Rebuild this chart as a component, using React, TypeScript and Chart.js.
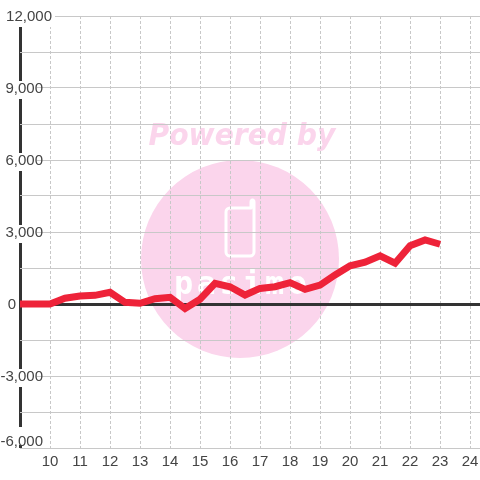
import React, { useEffect, useRef } from "react";
import { Chart, registerables } from "chart.js";

Chart.register(...registerables);

const hours = [9, 10, 10.5, 11, 11.5, 12, 12.5, 13, 13.5, 14, 14.5, 15, 15.5, 16, 16.5, 17, 17.5, 18, 18.5, 19, 19.5, 20, 20.5, 21, 21.5, 22, 22.5, 23];
const values = [0, 0, 240, 330, 360, 490, 70, 30, 220, 280, -190, 200, 860, 720, 375, 650, 720, 890, 610, 790, 1210, 1590, 1740, 2010, 1700, 2430, 2670, 2490];
const watermarkTop = "Powered by";
const watermarkBrand = "pasimo";

const TEXT = "#444444";
const GRID = "#c8c8c8";
const AXIS = "#333333";
const LINE = "#ee2339";
const PINK = "#fbd5ec";

const watermark = {
  id: "watermark",
  beforeDraw(chart: any) {
    const c = chart.ctx;
    c.save();
    c.fillStyle = PINK;
    c.beginPath();
    c.arc(240, 259, 99, 0, Math.PI * 2);
    c.fill();
    c.save();
    c.translate(242, 145);
    c.scale(0.91, 1);
    c.font = "italic bold 31px 'DejaVu Sans'";
    c.textAlign = "center";
    c.textBaseline = "alphabetic";
    c.fillText(watermarkTop, 0, 0);
    c.restore();
    c.strokeStyle = "#ffffff";
    c.lineWidth = 3;
    c.lineJoin = "round";
    c.beginPath();
    c.moveTo(230, 208);
    c.lineTo(251, 208);
    c.lineTo(251, 203);
    c.arcTo(251, 200, 253, 200, 2);
    c.arcTo(254, 200, 254, 203, 2);
    c.lineTo(254, 252);
    c.arcTo(254, 256, 250, 256, 4);
    c.lineTo(230, 256);
    c.arcTo(226, 256, 226, 252, 4);
    c.lineTo(226, 212);
    c.arcTo(226, 208, 230, 208, 4);
    c.closePath();
    c.stroke();
    c.fillStyle = "#ffffff";
    c.font = "bold 32px 'DejaVu Sans Mono'";
    c.textAlign = "left";
    (c as any).letterSpacing = "3.5px";
    c.fillText(watermarkBrand, 174, 294);
    c.restore();
  },
};

function moveLabels(scale: any) {
  if (scale._labelsMoved) return;
  scale._labelsMoved = true;
  const compute = scale._computeLabelItems.bind(scale);
  scale._computeLabelItems = (area: any) =>
    compute(area)
      .filter((item: any) => item.label !== "")
      .map((item: any) => {
        const o = item.options;
        let dx = 0;
        if (item.label === "12,000") dx = 9;
        if (item.label === "0") dx = -27;
        const dy = item.label === "-6,000" ? -6 : 1;
        const x = 43 + dx;
        const shift = x - o.translation[0];
        o.translation = [x, o.translation[1] + dy];
        if (o.backdrop) {
          o.backdrop.left += shift;
          o.backdrop.top += dy;
        }
        return item;
      });
}

export default function App() {
  const ref = useRef<HTMLCanvasElement>(null);
  useEffect(() => {
    const chart = new Chart(ref.current!, {
      type: "line",
      data: {
        datasets: [
          {
            data: hours.map((h, i) => ({ x: h, y: values[i] })),
            borderColor: LINE,
            borderWidth: 7,
            pointRadius: 0,
            tension: 0,
            clip: false,
          },
        ],
      },
      options: {
        responsive: false,
        animation: false,
        layout: { autoPadding: false, padding: { left: 20, top: 16, right: 0, bottom: 0 } },
        plugins: { legend: { display: false }, tooltip: { enabled: false } },
        scales: {
          x: {
            type: "linear",
            min: 9,
            max: 24.33,
            afterFit(s: any) {
              s.height = 32;
              s.paddingLeft = 0;
              s.paddingRight = 0;
            },
            grid: {
              color: (c: any) => (c.tick.value === 9 ? AXIS : GRID),
              lineWidth: (c: any) => (c.tick.value === 9 ? 3 : 1),
              drawTicks: false,
            },
            border: {
              display: false,
              dash: (c: any) => (c.tick && c.tick.value === 9 ? [] : [3, 2]),
            },
            ticks: {
              stepSize: 1,
              includeBounds: false,
              autoSkip: false,
              maxRotation: 0,
              padding: 5,
              color: TEXT,
              font: { family: "'Liberation Sans'", size: 15 },
              callback: (v: any) => (v === 9 ? "" : String(v)),
            },
          },
          y: {
            type: "linear",
            position: { x: 10 } as any,
            min: -6000,
            max: 12000,
            afterUpdate: moveLabels,
            grid: {
              color: (c: any) => (c.tick.value === 0 ? AXIS : GRID),
              lineWidth: (c: any) => (c.tick.value === 0 ? 3 : 1),
              drawTicks: false,
            },
            border: { display: false },
            ticks: {
              stepSize: 1500,
              autoSkip: false,
              padding: 2,
              color: TEXT,
              font: { family: "'Liberation Sans'", size: 15 },
              showLabelBackdrop: true,
              backdropColor: "#ffffff",
              backdropPadding: { left: 1, right: 1, top: 0, bottom: 0 },
              callback: (v: any) => (v % 3000 === 0 ? Number(v).toLocaleString("en-US") : ""),
            } as any,
          },
        },
      } as any,
      plugins: [watermark],
    });
    return () => chart.destroy();
  }, []);
  return (
    <div style={{ position: "absolute", left: 0, top: 0, width: 480, height: 480, background: "#fff" }}>
      <canvas ref={ref} width={480} height={480} style={{ display: "block", width: 480, height: 480 }} />
    </div>
  );
}
